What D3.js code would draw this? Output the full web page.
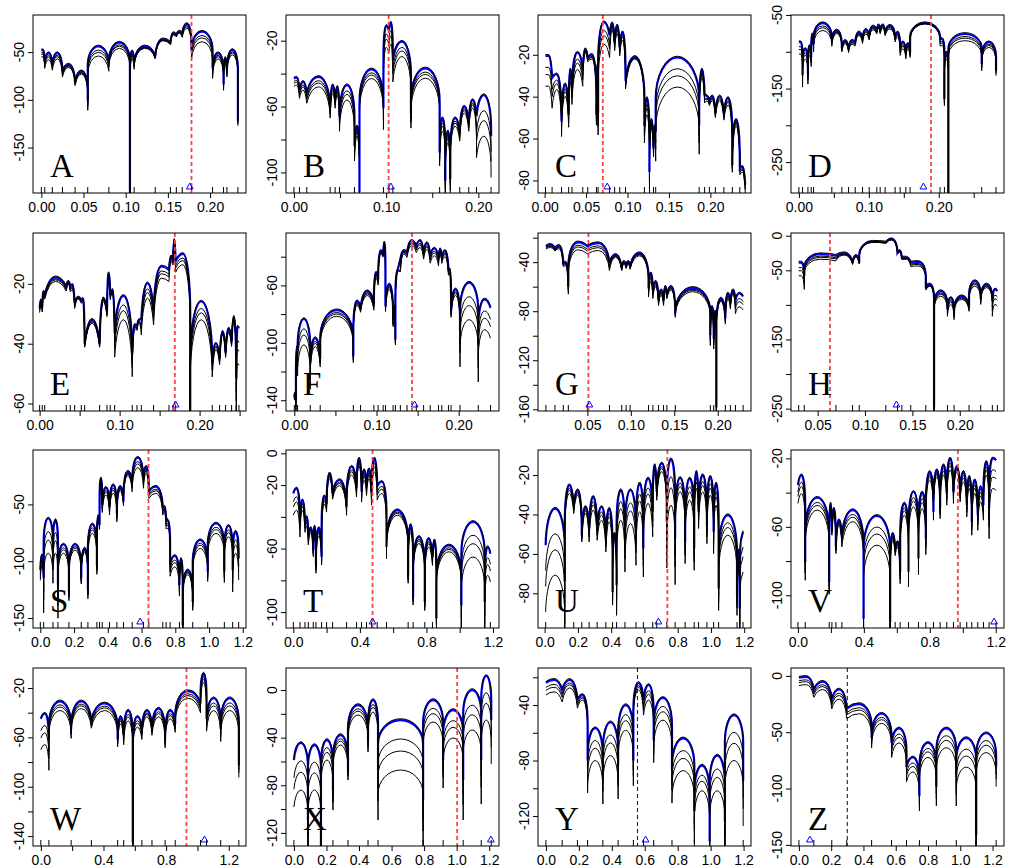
<!DOCTYPE html>
<html>
<head>
<meta charset="utf-8">
<script src="https://cdn.jsdelivr.net/npm/d3@7"></script>
<style>
  body { margin: 0; background: white; }
  svg { display: block; }
  text { font-family: "Liberation Sans", Arial, sans-serif; }
</style>
</head>
<body>
<svg id="plot"></svg>
<script>
// panel order: A B C D E F G H S T U V W X Y Z
const names = ['A','B','C','D','E','F','G','H','S','T','U','V','W','X','Y','Z'];

const xDomains = [[-0.0099,0.2426],[-0.0086,0.2224],[-0.008,0.249],[-0.0113,0.2933],
  [-0.0083,0.258],[-0.0101,0.249],[-0.0068,0.2383],[0.0219,0.2467],
  [-0.0434,1.2191],[-0.044,1.236],[-0.04,1.241],[-0.042,1.25],
  [-0.05,1.31],[-0.0485,1.26],[-0.048,1.245],[-0.049,1.271]];
const yDomains = [[-197.6,-11.1],[-112.5,-4.4],[-86,-1],[-292,-50],
  [-62.5,-3],[-147.5,-23.5],[-161.4,-16.2],[-253.4,3.9],
  [-158.8,-2.1],[-110,2.1],[-97.6,-7.3],[-119.1,-15.1],
  [-148,-3.8],[-131,18.5],[-141.6,-13.3],[-151,7]];

const xTicks = [[0,0.05,0.1,0.15,0.2],[0,0.05,0.1,0.15,0.2],[0,0.05,0.1,0.15,0.2],[0,0.05,0.1,0.15,0.2,0.25],
  [0,0.05,0.1,0.15,0.2,0.25],[0,0.05,0.1,0.15,0.2],[0.05,0.1,0.15,0.2],[0.05,0.1,0.15,0.2],
  [0,0.2,0.4,0.6,0.8,1,1.2],[0,0.2,0.4,0.6,0.8,1,1.2],[0,0.2,0.4,0.6,0.8,1,1.2],[0,0.2,0.4,0.6,0.8,1,1.2],
  [0,0.2,0.4,0.6,0.8,1,1.2],[0,0.2,0.4,0.6,0.8,1,1.2],[0,0.2,0.4,0.6,0.8,1,1.2],[0,0.2,0.4,0.6,0.8,1,1.2]];
const xLabels = [[0,0.05,0.1,0.15,0.2],[0,0.1,0.2],[0,0.05,0.1,0.15,0.2],[0,0.1,0.2],
  [0,0.1,0.2],[0,0.1,0.2],[0.05,0.1,0.15,0.2],[0.05,0.1,0.15,0.2],
  [0,0.2,0.4,0.6,0.8,1,1.2],[0,0.4,0.8,1.2],[0,0.2,0.4,0.6,0.8,1,1.2],[0,0.4,0.8,1.2],
  [0,0.4,0.8,1.2],[0,0.2,0.4,0.6,0.8,1,1.2],[0,0.2,0.4,0.6,0.8,1,1.2],[0,0.2,0.4,0.6,0.8,1,1.2]];
const yTicks = [[-150,-100,-50],[-100,-80,-60,-40,-20],[-80,-60,-40,-20],[-250,-200,-150,-100,-50],
  [-60,-40,-20],[-140,-120,-100,-80,-60,-40],[-160,-140,-120,-100,-80,-60,-40,-20],[-250,-200,-150,-100,-50,0],
  [-150,-100,-50],[-100,-80,-60,-40,-20,0],[-80,-60,-40,-20],[-100,-80,-60,-40,-20],
  [-140,-120,-100,-80,-60,-40,-20],[-120,-100,-80,-60,-40,-20,0],[-120,-100,-80,-60,-40,-20],[-150,-100,-50,0]];
const yLabels = [[-150,-100,-50],[-100,-60,-20],[-80,-60,-40,-20],[-250,-150,-50],
  [-60,-40,-20],[-140,-100,-60],[-160,-120,-80,-40],[-250,-150,-50,0],
  [-150,-100,-50],[-100,-60,-20,0],[-80,-60,-40,-20],[-100,-60,-20],
  [-140,-100,-60,-20],[-120,-80,-40,0],[-120,-80,-40],[-150,-100,-50,0]];

// vertical dashed reference line and blue triangle marker
const refX = [0.178,0.1027,0.0702,0.189,0.169,0.1431,0.0512,0.063,0.641,0.476,0.738,0.97,0.93,1.003,0.556,0.3];
const refColor = ['red','red','red','red','red','red','red','red','red','red','red','red','red','red','black','black'];
const markX = [0.176,0.1052,0.0755,0.178,0.17,0.1464,0.0523,0.1332,0.5917,0.476,0.684,1.19,1.045,1.21,0.605,0.068];

// lobe boundaries (dips), depth at each boundary, blue peak per lobe, lowest black peak per lobe
const knots = [
  [0,0.004,0.013,0.025,0.040,0.055,0.080,0.105,0.110,0.135,0.153,0.160,0.167,0.178,0.203,0.216,0.220,0.233],
  [0,0.006,0.0139,0.0393,0.0447,0.0494,0.0657,0.0711,0.0971,0.103,0.1073,0.1269,0.158,0.1642,0.1696,0.1798,0.1896,0.198,0.2138],
  [0.001,0.009,0.0204,0.029,0.033,0.046,0.052,0.0625,0.0645,0.0784,0.0845,0.0906,0.0976,0.1204,0.1265,0.1314,0.134,0.1865,0.193,0.1988,0.206,0.2163,0.2265,0.2355,0.242],
  [0,0.0052,0.0129,0.0176,0.021,0.0471,0.0614,0.071,0.0805,0.091,0.1005,0.1114,0.1162,0.1233,0.1376,0.1448,0.1529,0.159,0.2019,0.2081,0.2138,0.2614,0.2819],
  [0,0.0033,0.0063,0.0333,0.0383,0.0438,0.0521,0.0563,0.075,0.0842,0.0883,0.0938,0.1158,0.1217,0.1271,0.1425,0.1617,0.1667,0.17,0.1883,0.2158,0.225,0.2325,0.24,0.2458,0.2492],
  [0,0.002,0.004,0.0194,0.0315,0.0718,0.0806,0.0968,0.102,0.1081,0.1109,0.1202,0.123,0.129,0.1371,0.1484,0.1573,0.1653,0.1754,0.1794,0.1875,0.1907,0.2016,0.2238,0.2387],
  [0.0023,0.0127,0.0223,0.0281,0.05,0.0754,0.0896,0.0946,0.0992,0.1204,0.1254,0.1319,0.1377,0.1415,0.1512,0.1915,0.1954,0.1985,0.2088,0.2146,0.2204,0.2292],
  [0.03,0.0359,0.0693,0.0869,0.0939,0.122,0.1343,0.1389,0.1483,0.1642,0.1729,0.187,0.194,0.2098,0.2221,0.2344,0.2397],
  [0,0.0197,0.0749,0.1045,0.1696,0.2426,0.282,0.3353,0.3511,0.3669,0.4102,0.4537,0.4931,0.5444,0.6114,0.643,0.7259,0.7456,0.7692,0.8244,0.8441,0.9033,0.9921,1.0907,1.1401,1.1755],
  [0,0.04,0.07,0.09,0.12,0.136,0.17,0.2,0.236,0.32,0.38,0.41,0.44,0.47,0.504,0.56,0.69,0.72,0.79,0.836,0.86,1.01,1.15,1.184],
  [0.006,0.1207,0.175,0.2233,0.2676,0.3159,0.3682,0.4085,0.4326,0.4829,0.5493,0.5936,0.6499,0.674,0.7344,0.7847,0.8451,0.8994,0.9256,0.9759,1.0161,1.0463,1.157,1.173,1.1932],
  [0,0.0444,0.1899,0.2061,0.2303,0.2667,0.398,0.5596,0.5899,0.6202,0.6707,0.7313,0.7758,0.8222,0.8626,0.903,0.9434,0.9838,1.0242,1.0545,1.0909,1.1253,1.1596,1.202],
  [0,0.0516,0.1935,0.3226,0.4903,0.529,0.5871,0.6452,0.7097,0.7935,0.8581,1.0194,1.0581,1.1484,1.2645],
  [0,0.0862,0.1662,0.24,0.3323,0.4554,0.5169,0.7938,0.9169,1.04,1.1508,1.2123],
  [0,0.0988,0.1914,0.2531,0.3457,0.4383,0.5309,0.5926,0.6543,0.7654,0.9012,0.9938,1.0864,1.1975],
  [0,0.0926,0.2037,0.2963,0.4506,0.5741,0.6667,0.7469,0.8519,0.9753,1.0988,1.2222]
];
const dips = [
  [-48,-60,-62,-70,-82,-101,-60,-198,-60,-55,-40,-32,-30,-48,-67,-84,-70,-122],
  [-43,-50,-52,-61,-56,-66,-84,-112,-61,-14,-32,-64,-88,-105,-104,-76,-70,-66,-78],
  [-20.5,-31,-51.8,-48.6,-35.7,-27,-21.3,-48.6,-47.8,-10.8,-14,-16.5,-32.5,-54,-76,-64.7,-56.7,-53.4,-39,-42,-47.8,-47.8,-72.7,-74.3,-82],
  [-87,-132,-130,-107,-90,-82.6,-96,-96,-87,-82.6,-78,-71,-71,-73.5,-80,-96,-100.7,-100.7,-82.6,-164,-292,-116.5,-125.6],
  [-28,-27.8,-23.7,-21,-21,-26.5,-25.4,-40,-40,-29.3,-23.7,-36.5,-43,-34.3,-32,-28.7,-15.3,-12,-12.5,-62.5,-45,-45,-43,-39.3,-51.6,-34.9],
  [-138,-140,-105,-114.3,-110.8,-109.6,-75.7,-73.3,-55.8,-38.2,-74.5,-85,-97.9,-41.8,-37,-32.4,-37,-39.4,-41.3,-40.6,-48.8,-78,-90.9,-101.4,-75.7],
  [-27.1,-28.5,-40.8,-60,-27.1,-40.8,-44.9,-43.6,-43.6,-61.4,-62.7,-71,-71,-66.8,-81.9,-99.7,-102.5,-158.6,-86,-73.7,-71,-68],
  [-38.8,-58.3,-29,-38.8,-38.8,-9.7,-24.3,-31.6,-38.8,-72.8,-247.6,-106.8,-111.7,-102,-92,-94.7,-80],
  [-108,-115,-88.8,-121,-127,-115,-125,-103.5,-68,-50.6,-52,-58,-47.6,-30,-27,-38.8,-53.5,-62.4,-103.5,-121,-156.5,-136,-109,-109,-108,-97.6],
  [-25.3,-39,-43.2,-51.6,-61,-70.5,-65.3,-32,-25.3,-33.7,-22.1,-24.2,-20,-24.2,-21,-59,-76.8,-90.5,-93.7,-65.3,-104,-95.8,-93.7,-63.2],
  [-55.6,-74.2,-35.3,-50.5,-47.1,-46.3,-52.2,-79.3,-75.9,-52.2,-48.8,-57.3,-38.6,-28.5,-43.7,-52.2,-53.9,-57.3,-38.6,-45.4,-48.8,-77.6,-81,-87.8,-48.8],
  [-35.6,-80.5,-92.2,-61,-71.7,-64.9,-113.7,-115.6,-72.7,-86.3,-86.3,-78.5,-66.8,-51.2,-49.3,-40.5,-39.5,-39.5,-47.3,-57.1,-53.2,-47.3,-49.3,-21],
  [-45,-61.7,-53.3,-46.7,-61.7,-57.5,-145,-53.3,-51.7,-61.7,-49.2,-32.5,-45,-53.3,-82.5],
  [-58.8,-109,-134,-84,-67.2,-42,-67.2,-92.4,-58.8,-75.6,-58.8,-25.2],
  [-24,-29.1,-36.4,-80,-87.3,-83.6,-80,-36.4,-65.5,-87.3,-116.4,-138.2,-123.6,-94.5],
  [-1.7,-12.1,-20.7,-29.3,-55.2,-59.5,-81,-106.9,-98.3,-89.7,-141.4,-81]
];
const peaks = [
  [-48,-51,-51,-63,-70,-44,-40,-49,-44,-36.5,-30,-28.5,-20.5,-28.5,-51,-56,-47.6],
  [-42.4,-45,-42,-47,-48,-47,-72,-37.4,-11,-9,-20.6,-36.8,-67,-75,-67,-60,-56,-53],
  [-20.5,-29.3,-34,-27,-19,-17.3,-20,-25,-4.4,-4.9,-6,-9.2,-21,-40.6,-51,-54,-21.3,-27,-39.8,-39.8,-39.8,-40.6,-51,-73.5],
  [-87,-96,-92,-76,-61,-71,-85,-85,-73.5,-70,-65.4,-63.6,-63.6,-64.5,-73.5,-87,-89,-61,-82.6,-100.7,-75.8,-87],
  [-25.4,-22.6,-17.8,-19.2,-20.3,-24.5,-25,-32,-24.8,-16.4,-22,-24,-33.7,-32,-19.8,-14.2,-10.8,-5.3,-10,-25.9,-40,-36,-34.9,-31,-34.3],
  [-135,-103,-83.4,-96.7,-77.3,-71,-64,-51,-35.9,-30,-59.3,-74.5,-48.8,-35.9,-28.9,-28.9,-30.5,-34.3,-34.7,-35.9,-48.8,-62.8,-58.1,-69.8],
  [-25.8,-26.6,-40.3,-23.8,-24.4,-34,-39.5,-39.5,-32.6,-49,-55.9,-62.7,-60,-60,-61,-76.4,-80,-69.6,-65.5,-62.7,-65.5],
  [-38.8,-26.7,-25.2,-29,-8.7,-4.9,-21.8,-31.6,-37.9,-70.4,-80,-89.8,-87.4,-65.5,-70.4,-77.7],
  [-94.7,-62.4,-63.8,-85.3,-85.3,-88.8,-67.6,-60,-27,-35.3,-33,-34.4,-21.2,-8.8,-16.8,-34.4,-52,-64.7,-95.3,-98,-108,-81.5,-66.8,-68.8,-74],
  [-22.1,-29.5,-40,-47,-46,-47,-27,-12.6,-16.8,-8.4,-3.2,-10.5,-9.9,-3.2,-17.9,-35.8,-45,-52.6,-53.7,-54.7,-58,-43.2,-59],
  [-37,-25.1,-27.6,-36.1,-31,-36.1,-37,-49.7,-27.6,-27.6,-24.2,-21.7,-14.9,-14.1,-11.9,-21.4,-21.7,-18.3,-20,-20.8,-24.2,-40.3,-58.1,-52.2],
  [-29.8,-43,-46.3,-49.3,-56,-50.2,-53.6,-63.9,-68.8,-46.3,-39.5,-39.9,-27.8,-26.8,-23.9,-20,-24.9,-27.8,-30.7,-32.7,-36.6,-22,-20],
  [-40.8,-30.8,-30.8,-32.5,-43.3,-38.3,-43.3,-38.3,-36.7,-38.3,-22.5,-8.3,-28.3,-28.3],
  [-44.5,-46.2,-42,-37.8,-12.6,-8.4,-25.2,-8.4,-16.8,0,11.8],
  [-21.8,-21.8,-32.7,-56.7,-52.4,-40,-24,-25.5,-34.9,-64,-83.6,-76.4,-47.3],
  [-0.9,-5.2,-12.1,-25,-33.6,-46.6,-72.4,-59.5,-46.6,-55.2,-50.9]
];
const lows = [
  [-55,-58,-57,-66,-73,-54,-46,-57,-46,-38,-32,-30,-25,-39,-57,-62,-52.8],
  [-47,-50,-48,-52,-53,-56,-78,-43,-24,-22,-29.7,-42.8,-75,-82,-72,-64,-61,-78],
  [-35,-36.5,-39.8,-33,-27,-19,-22,-30,-14.9,-8.4,-10,-13,-22,-48.6,-55,-58,-35.4,-31,-42,-42,-42,-44,-54,-76],
  [-103,-110,-105,-85,-71,-75,-89,-90,-78,-76,-70,-68,-68,-69,-80,-96,-96,-62,-91.6,-110,-85,-94],
  [-27,-24,-19.2,-20,-22,-25,-26,-33.2,-26,-18,-23,-32,-35,-33,-24.8,-18.1,-12.5,-7,-13.6,-32,-42,-37,-36.5,-32,-46.6],
  [-137,-110,-101.4,-102.6,-81.5,-74,-67,-55,-38,-32,-63,-78,-50,-38,-32.4,-33.6,-35,-39.4,-38,-40,-52,-67,-83.9,-90.9],
  [-28,-29,-43,-29.9,-30.4,-36,-41,-41,-34.8,-55.9,-60,-67,-63,-62.7,-64.1,-84.7,-88,-72,-70,-66,-76.4],
  [-58,-34,-28,-31,-9.5,-6,-24,-34,-43.7,-73,-87.4,-99.5,-92,-72.8,-75,-99.5],
  [-103.5,-93,-93,-93,-90.3,-92,-75.6,-64,-30,-41.8,-40.3,-38,-24.7,-17.6,-22.6,-40.3,-56,-71,-105,-105,-112,-88.8,-75.6,-78.5,-93],
  [-35.8,-36,-46,-50,-50,-52,-32,-16,-20.4,-13.7,-8,-17,-16,-11.6,-25.3,-39,-50,-56.8,-59,-58,-62,-65.3,-76.8],
  [-70.8,-29.3,-30.2,-39.5,-37.8,-42.9,-43.7,-52.2,-42.9,-44.6,-38.6,-34.4,-19.2,-18.3,-35.3,-28.5,-32.7,-26.8,-28.5,-30.2,-35.3,-50.5,-67.5,-72.5],
  [-40.5,-50.2,-50,-53.2,-59,-57,-70.7,-68,-72,-53.2,-48.3,-49.3,-32.7,-30.7,-29.8,-26.8,-27.8,-33.7,-37.6,-40.5,-45.4,-29.8,-37.6],
  [-65.8,-38.3,-36.7,-38.3,-49.2,-46.7,-51.7,-43.3,-43.3,-45,-28.3,-15.8,-38.3,-38.3],
  [-84,-84,-58.8,-46.2,-21,-18.5,-67.2,-26.9,-40.3,-33.6,-25.2],
  [-30.5,-27.6,-36.4,-80,-76.4,-58.2,-29.1,-36.4,-50.9,-87.3,-101.8,-101.8,-80],
  [-7.8,-12.1,-20.7,-33.6,-42.2,-59.5,-85.3,-72.4,-63.8,-81,-68.1]
];

// where the three lower black curves sit between the blue peak (0) and the lowest one (1)
const blackShares = [0.38, 0.62, 1];

let width = 1012, height = 867;
let colLeft = [33, 286, 538, 791], rowTop = [15, 233, 450, 668];
let boxW = 213, boxH = 178;
let lobeDb = 20;

let svg = d3.select('#plot')
  .attr('width', width)
  .attr('height', height)
  .style('background', 'white');

let f = v => v.toFixed(2);

// half of one lobe drawn as an elliptical arc, dip -> peak or peak -> dip
function half(xa, ya, xb, yb, a, b, rising) {
  let h = rising ? ya - yb : yb - ya;
  if (h <= 0.3 || a < 0.3) return `L${f(xb)},${f(yb)}`;
  if (h >= b) {
    return rising
      ? `L${f(xa)},${f(yb + b)}A${f(a)},${f(b)} 0 0 1 ${f(xb)},${f(yb)}`
      : `A${f(a)},${f(b)} 0 0 1 ${f(xb)},${f(ya + b)}L${f(xb)},${f(yb)}`;
  }
  let t = 1 - h / b;
  let r = a / Math.sqrt(Math.max(1e-6, 1 - t * t));
  return `A${f(r)},${f(b)} 0 0 1 ${f(xb)},${f(yb)}`;
}

function lobePath(x, y, kn, dp, pk) {
  let b = Math.abs(y(0) - y(lobeDb));
  let s = `M${f(x(kn[0]))},${f(y(dp[0]))}`;
  for (let j = 0; j < pk.length; j++) {
    let x0 = x(kn[j]), x1 = x(kn[j + 1]);
    let a = (x1 - x0) / 2, xm = x0 + a, yp = y(pk[j]);
    s += half(x0, y(dp[j]), xm, yp, a, b, true);
    s += half(xm, yp, x1, y(dp[j + 1]), a, b, false);
  }
  return s;
}

names.forEach(function(name, i) {
  let left = colLeft[i % 4], top = rowTop[Math.floor(i / 4)];
  let bottom = top + boxH;
  let x = d3.scaleLinear().domain(xDomains[i]).range([left, left + boxW]);
  let y = d3.scaleLinear().domain(yDomains[i]).range([bottom, top]);
  let g = svg.append('g');

  g.append('clipPath').attr('id', 'clip' + i)
    .append('rect').attr('x', left).attr('y', top).attr('width', boxW).attr('height', boxH);
  let plot = g.append('g').attr('clip-path', `url(#clip${i})`);

  let kn = knots[i], dp = dips[i], pk = peaks[i], lo = lows[i];

  // blue curve underneath, black curves drawn over it
  let bluePath = lobePath(x, y, kn, dp, pk);
  plot.append('path').attr('d', bluePath)
    .attr('fill', 'none').attr('stroke', '#0000ff').attr('stroke-width', 2.2);

  blackShares.forEach(function(s) {
    let pks = pk.map((p, j) => p + s * (lo[j] - p));
    let off = pks.map((p, j) => p - pk[j]);
    let dps = dp.map(function(d, k) {
      if (k === 0) return d + off[0];
      if (k === dp.length - 1) return d + off[off.length - 1];
      return Math.min(d + Math.min(off[k - 1], off[k]), pks[k - 1] - 0.5, pks[k] - 0.5);
    });
    plot.append('path')
      .attr('d', lobePath(x, y, kn, dps, pks))
      .attr('fill', 'none').attr('stroke', 'black').attr('stroke-width', 1);
  });

  plot.append('path').attr('d', bluePath).attr('transform', 'translate(0,-1.3)')
    .attr('fill', 'none').attr('stroke', 'black').attr('stroke-width', 1);

  // rug
  g.selectAll('.rug').data(kn).enter().append('line')
    .attr('x1', d => x(d)).attr('x2', d => x(d))
    .attr('y1', bottom).attr('y2', bottom - 6)
    .attr('stroke', 'black').attr('stroke-width', 1);

  // reference line
  g.append('line')
    .attr('x1', x(refX[i])).attr('x2', x(refX[i]))
    .attr('y1', top).attr('y2', bottom)
    .attr('stroke', refColor[i] === 'red' ? '#ff4040' : '#222')
    .attr('stroke-width', refColor[i] === 'red' ? 1.8 : 1.1)
    .attr('stroke-dasharray', '4,3');

  g.append('path')
    .attr('d', d3.symbol(d3.symbolTriangle, 20)())
    .attr('transform', `translate(${x(markX[i])},${bottom - 6})`)
    .attr('fill', 'none').attr('stroke', '#0000ff').attr('stroke-width', 1);

  // box
  g.append('rect').attr('x', left).attr('y', top).attr('width', boxW).attr('height', boxH)
    .attr('fill', 'none').attr('stroke', 'black').attr('stroke-width', 1);

  // x axis
  let digits = xDomains[i][1] > 1 ? 1 : 2;
  let xAxis = g.append('g')
    .attr('transform', `translate(0,${bottom})`)
    .call(d3.axisBottom(x).tickValues(xTicks[i]).tickSize(5).tickPadding(4)
      .tickFormat(d => xLabels[i].includes(d) ? d.toFixed(digits) : ''));
  xAxis.select('.domain').remove();
  xAxis.selectAll('text').attr('font-size', 14).attr('font-family', '"Liberation Sans", Arial, sans-serif');

  // y axis with rotated labels
  let yAxis = g.append('g')
    .attr('transform', `translate(${left},0)`)
    .call(d3.axisLeft(y).tickValues(yTicks[i]).tickSize(5).tickFormat(''));
  yAxis.select('.domain').remove();
  g.selectAll('.ylab').data(yLabels[i]).enter().append('text')
    .attr('transform', d => `translate(${left - 9},${y(d)}) rotate(-90)`)
    .attr('text-anchor', 'middle')
    .attr('font-size', 14)
    .text(d => String(d));

  // panel letter
  g.append('text')
    .attr('x', left + 17).attr('y', bottom - 16)
    .attr('font-size', 33)
    .style('font-family', '"Liberation Serif", "Times New Roman", serif')
    .text(name);
});
</script>
</body>
</html>
